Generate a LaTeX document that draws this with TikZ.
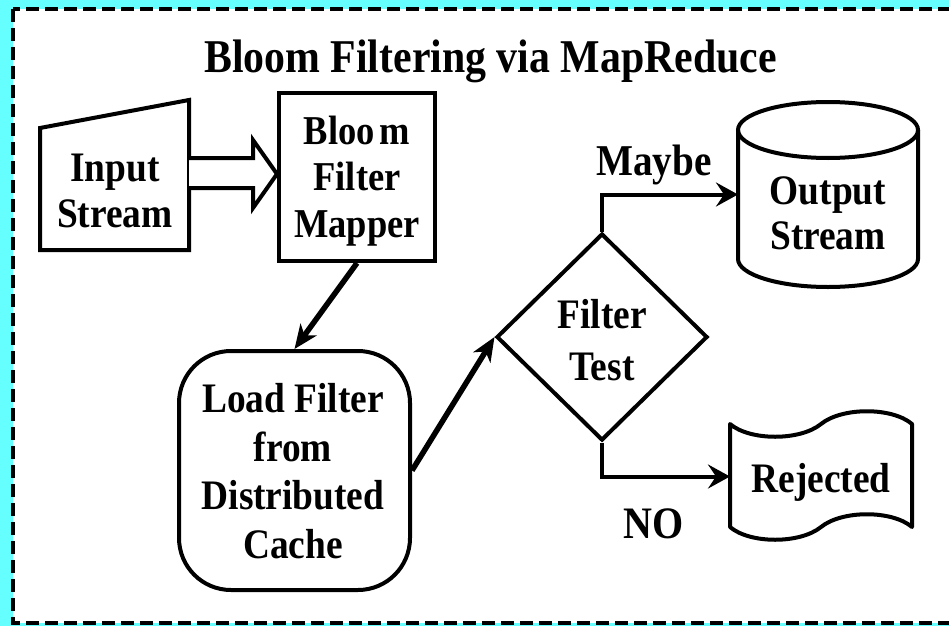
\documentclass[tikz,border=0pt]{standalone}
\usepackage{fontspec}
\setmainfont{Liberation Serif}[FakeStretch=0.89]
\usetikzlibrary{arrows.meta,shapes.geometric,calc}
\definecolor{bgcyan}{RGB}{102,255,255}
\begin{document}
\begin{tikzpicture}[x=1pt,y=-1pt,
  outline/.style={draw=black, line width=4pt, line join=miter},
  txt/.style={font=\bfseries\fontsize{42}{#1}\selectfont, align=center, inner sep=0pt, text=black},
  txt/.default=46,
  thickarrow/.style={line width=5.5pt, -{Stealth[length=24pt,width=20pt,inset=7pt]}},
  flowarrow/.style={line width=4pt, -{Stealth[length=22pt,width=24pt,inset=8pt]}},
  frame/.style={minimum width=#1, inner sep=0pt, outer sep=0pt},
]
\useasboundingbox (0,0) rectangle (949,626);
\clip (0,0) rectangle (949,626);
\fill[bgcyan] (0,0) rectangle (949,626);
\fill[white] (13,9) rectangle (970,623);
\draw[line width=4pt, dash pattern=on 13pt off 6pt] (13,9) rectangle (970,623);

% title
\node[txt, font=\bfseries\fontsize{47}{50}\selectfont, anchor=base] (title) at (490.5,72) {Bloom Filtering via MapReduce};

% input stream (manual input)
\draw[outline] (40,128) -- (189,100) -- (189,250) -- (40,250) -- cycle;
\node[txt=46] (inp) at (115,191) {Input\\Stream};

% bloom filter mapper
\node[outline, rectangle, minimum width=156pt, minimum height=168pt, inner sep=0pt] (bfm) at (357,177) {};
\node[txt=46.5, font=\bfseries\fontsize{41}{46.5}\selectfont] (bfmt) at (357,181) {Bloo\kern5pt m\\Filter\\Mapper};

% block arrow
\path (bfm.west) ++(0,-3) coordinate (bt);
\draw[outline, fill=white] (bt) ++(-88,-16) -- ++(64,0) -- ++(0,-18) -- (bt) -- ++(-24,34) -- ++(0,-20) -- ++(-64,0);

% load filter
\node[outline, rectangle, rounded corners=52pt, minimum width=231pt, minimum height=239pt, inner sep=0pt] (load) at (294.5,470.5) {};
\node[txt, font=\bfseries\fontsize{42}{48.7}\selectfont] (loadt) at (293,471) {Load Filter\\from\\Distributed\\Cache};

% diamond
\node[outline, diamond, minimum width=211pt, minimum height=207pt, inner sep=0pt] (dia) at (602,337) {};
\node[txt, font=\bfseries\fontsize{42}{52}\selectfont] (diat) at (602,340) {Filter\\Test};

% output stream cylinder
\node[minimum width=180pt, minimum height=185pt, inner sep=0pt, outer sep=0pt] (outs) at (828,194.5) {};
\draw[outline] (738,130) -- (738,259) arc[start angle=180, end angle=0, x radius=90, y radius=28] -- (918,130);
\draw[outline] (828,130) ellipse [x radius=90, y radius=28];
\node[txt, font=\bfseries\fontsize{42}{45}\selectfont] (outt) at (828,213) {Output\\Stream};

% rejected tape
\node[minimum width=182pt, minimum height=106pt, inner sep=0pt, outer sep=0pt] (rej) at (821,476.5) {};
\draw[outline, line join=round] (730,424) .. controls (750,441) and (800,441) .. (821,424)
  .. controls (842,407) and (892,407) .. (912,424) -- (912,527)
  .. controls (892,510) and (842,510) .. (821,527)
  .. controls (800,544) and (750,544) .. (730,527) -- cycle;
\node[txt, anchor=base] (rejt) at (821,492) {Rejected};

% connectors
\draw[thickarrow] (bfm.south) -- (load.north);
\draw[thickarrow] (load.east) -- (dia.west);
\draw[flowarrow] (dia.north) |- (outs.west);
\draw[flowarrow] (dia.south) |- (rej.west);

% labels
\node[txt, font=\bfseries\fontsize{44}{46}\selectfont, anchor=base] (maybe) at (654,175) {Maybe};
\node[txt, font=\bfseries\fontsize{45}{46}\selectfont, anchor=base] (no) at (654,538) {NO};
\end{tikzpicture}
\end{document}
